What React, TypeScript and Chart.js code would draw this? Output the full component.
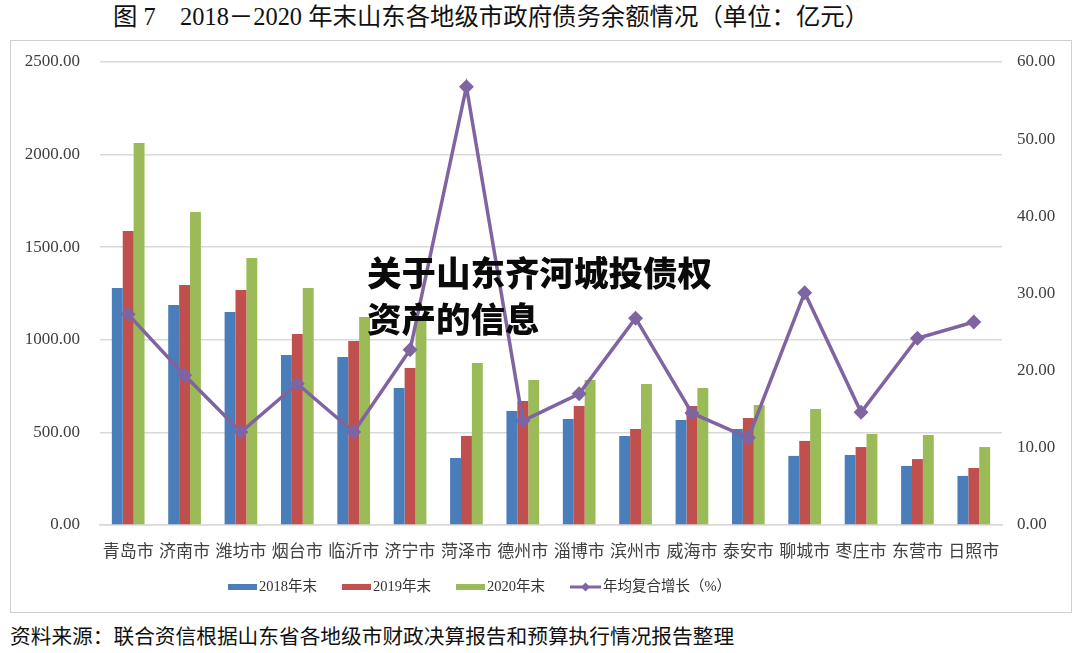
import React, { useEffect, useRef } from "react";
import { Chart, registerables } from "chart.js";

Chart.register(...registerables);

const cities = ["青岛市", "济南市", "潍坊市", "烟台市", "临沂市", "济宁市", "菏泽市", "德州市", "淄博市", "滨州市", "威海市", "泰安市", "聊城市", "枣庄市", "东营市", "日照市"];
const debt2018 = [1280, 1188, 1150, 918, 907, 740, 362, 616, 572, 481, 567, 518, 373, 378, 319, 265];
const debt2019 = [1587, 1296, 1269, 1031, 994, 848, 481, 670, 643, 518, 643, 578, 454, 421, 356, 308];
const debt2020 = [2063, 1690, 1442, 1280, 1123, 1110, 875, 783, 783, 761, 740, 648, 626, 491, 486, 421];
const cagr = [27.3, 19.4, 12.05, 18.3, 12.05, 22.7, 56.8, 13.5, 17.0, 26.8, 14.5, 11.3, 30.1, 14.6, 24.2, 26.3];
const seriesNames = ["2018年末", "2019年末", "2020年末", "年均复合增长（%）"];
const leftTicks = [0, 500, 1000, 1500, 2000, 2500];
const rightTicks = [0, 10, 20, 30, 40, 50, 60];

const BLUE = "#4A7EBB";
const RED = "#C0504D";
const GREEN = "#9BBB59";
const PURPLE = "#8064A2";
const FONT = "'Liberation Serif', 'Noto Sans CJK SC', serif";

Chart.defaults.font.family = FONT;

// Legend drawn on the chart canvas: start x / centre y in canvas pixels
const legendPlugin = {
  id: "customLegend",
  afterDraw(chart: any) {
    const ctx = chart.ctx;
    const colors = [BLUE, RED, GREEN, PURPLE];
    const boxW = 29;
    const boxH = 6;
    let x = 217;
    const cy = 546;
    ctx.save();
    ctx.font = `14.5px ${FONT}`;
    ctx.textBaseline = "middle";
    ctx.textAlign = "left";
    seriesNames.forEach((name, i) => {
      if (i < 3) {
        ctx.fillStyle = colors[i];
        ctx.fillRect(x, cy - boxH / 2, boxW, boxH);
      } else {
        ctx.strokeStyle = PURPLE;
        ctx.lineWidth = 3;
        ctx.beginPath();
        ctx.moveTo(x, cy);
        ctx.lineTo(x + boxW + 2, cy);
        ctx.stroke();
        const cx = x + (boxW + 2) / 2;
        const r = 4.5;
        ctx.fillStyle = PURPLE;
        ctx.beginPath();
        ctx.moveTo(cx, cy - r);
        ctx.lineTo(cx + r, cy);
        ctx.lineTo(cx, cy + r);
        ctx.lineTo(cx - r, cy);
        ctx.closePath();
        ctx.fill();
      }
      const tx = x + boxW + (i < 3 ? 2 : 4);
      ctx.fillStyle = "#333";
      ctx.fillText(name, tx, cy);
      x = tx + ctx.measureText(name).width + 25;
    });
    ctx.restore();
  },
};

const zeroPad = (s: any) => { s.paddingTop = 0; s.paddingBottom = 0; };

function ChartBox() {
  const ref = useRef<HTMLCanvasElement | null>(null);
  useEffect(() => {
    if (!ref.current) return;
    const chart = new Chart(ref.current, {
      type: "bar",
      data: {
        labels: cities,
        datasets: [
          { type: "bar", label: seriesNames[0], data: debt2018, backgroundColor: BLUE, yAxisID: "y", order: 1, categoryPercentage: 0.58, barPercentage: 1 },
          { type: "bar", label: seriesNames[1], data: debt2019, backgroundColor: RED, yAxisID: "y", order: 1, categoryPercentage: 0.58, barPercentage: 1 },
          { type: "bar", label: seriesNames[2], data: debt2020, backgroundColor: GREEN, yAxisID: "y", order: 1, categoryPercentage: 0.58, barPercentage: 1 },
          {
            type: "line", label: seriesNames[3], data: cagr, yAxisID: "y1", order: 0,
            borderColor: PURPLE, backgroundColor: PURPLE, borderWidth: 3.5,
            pointStyle: "rectRot", pointRadius: 5, pointBackgroundColor: PURPLE, pointBorderColor: PURPLE,
            tension: 0,
          },
        ] as any,
      },
      options: {
        animation: false,
        responsive: false,
        maintainAspectRatio: false,
        layout: { padding: { top: 21, bottom: 47, left: 0, right: 0 } },
        plugins: {
          tooltip: { enabled: false },
          title: { display: false },
          legend: { display: false },
        },
        scales: {
          x: {
            grid: { display: false },
            border: { display: true, color: "#d9d9d9", width: 1.5 },
            ticks: { color: "#404040", font: { family: FONT, size: 17 }, padding: 9, autoSkip: false, maxRotation: 0, minRotation: 0 },
            afterFit: (s: any) => { s.height = 40; },
          },
          y: {
            position: "left",
            min: 0,
            max: 2500,
            afterBuildTicks: (s: any) => { s.ticks = leftTicks.map((v) => ({ value: v })); },
            grid: { color: "#d9d9d9", lineWidth: 1.5, drawTicks: false },
            border: { display: false },
            ticks: { color: "#404040", font: { family: FONT, size: 17 }, padding: 20, callback: (v: any) => Number(v).toFixed(2) },
            afterFit: (s: any) => { s.width = 89; zeroPad(s); },
          },
          y1: {
            position: "right",
            min: 0,
            max: 60,
            afterBuildTicks: (s: any) => { s.ticks = rightTicks.map((v) => ({ value: v })); },
            grid: { display: false },
            border: { display: false },
            ticks: { color: "#404040", font: { family: FONT, size: 17 }, padding: 7, callback: (v: any) => Number(v).toFixed(2) },
            afterFit: (s: any) => { s.width = 69; zeroPad(s); },
          },
        },
      } as any,
      plugins: [legendPlugin],
    });
    return () => chart.destroy();
  }, []);
  return <canvas ref={ref} width={1060} height={571} style={{ position: "absolute", left: 11, top: 41, width: 1060, height: 571 }} />;
}

export default function App() {
  return (
    <div style={{ position: "absolute", left: 0, top: 0, width: 1080, height: 653, background: "#fff", overflow: "hidden" }}>
      <div style={{ position: "absolute", left: 113, top: 2, whiteSpace: "nowrap", fontFamily: FONT, fontSize: 24.4, color: "#111", lineHeight: "30px" }}>
        图 7　2018－2020 年末山东各地级市政府债务余额情况（单位：亿元）
      </div>
      <div style={{ position: "absolute", left: 10, top: 40, width: 1060, height: 571, border: "1.5px solid #d0d0d0" }} />
      <ChartBox />
      <div style={{ position: "absolute", left: 10, top: 623, whiteSpace: "nowrap", fontFamily: FONT, fontSize: 20.7, color: "#111", lineHeight: "28px" }}>
        资料来源：联合资信根据山东省各地级市财政决算报告和预算执行情况报告整理
      </div>
      <div style={{ position: "absolute", left: 367, top: 248, fontFamily: "'Noto Sans CJK SC', sans-serif", fontWeight: 900, fontSize: 34.5, color: "#0a0a0a", lineHeight: "46px", whiteSpace: "nowrap" }}>
        关于山东齐河城投债权<br />资产的信息
      </div>
    </div>
  );
}
